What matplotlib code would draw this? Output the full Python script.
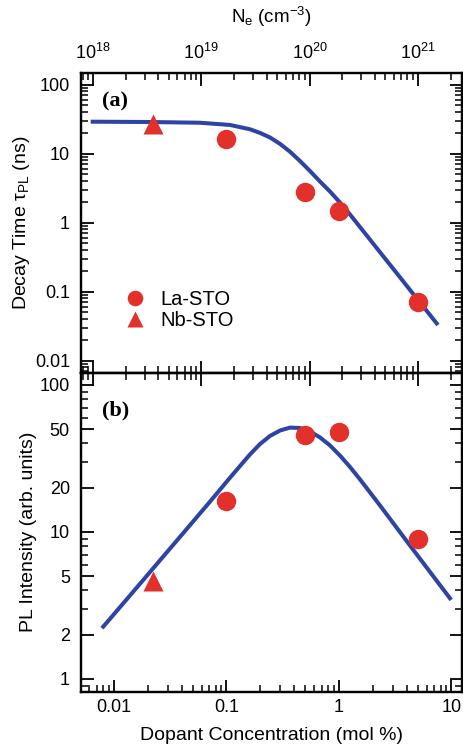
import matplotlib
matplotlib.use("Agg")
import matplotlib.pyplot as plt
from matplotlib.ticker import LogLocator, NullFormatter, FixedLocator, FixedFormatter

plt.rcParams['font.family'] = ['Liberation Sans', 'DejaVu Sans']
plt.rcParams['mathtext.fontset'] = 'custom'
plt.rcParams['mathtext.rm'] = 'Liberation Sans'
plt.rcParams['mathtext.it'] = 'Liberation Sans:italic'

# ---- data ----
conc_la = [0.1, 0.5, 1.0, 5.0]
tau_la = [16.3, 2.8, 1.48, 0.072]
int_la = [16.3, 45.7, 47.6, 9.0]

conc_nb = [0.022]
tau_nb = [26.8]
int_nb = [4.66]

fit_a_conc = [0.00647, 0.0209, 0.0581, 0.1074, 0.1618, 0.1988, 0.2435, 0.2989,
              0.3667, 0.4499, 0.5524, 0.6779, 0.8318, 1.0207, 1.2527, 1.537,
              1.886, 2.314, 2.840, 3.485, 4.277, 5.248, 6.44, 7.386]
fit_a_tau = [29.1, 28.8, 28.1, 26.1, 22.6, 20.0, 17.2, 13.9,
             10.7, 7.84, 5.61, 3.95, 2.83, 1.96, 1.315, 0.866,
             0.569, 0.374, 0.246, 0.162, 0.106, 0.0700, 0.0460, 0.0347]

fit_b_conc = [0.00803, 0.01388, 0.02397, 0.0413, 0.0714, 0.0876, 0.1074, 0.1318,
              0.1618, 0.1988, 0.2435, 0.2989, 0.3667, 0.4499, 0.5524, 0.6779,
              0.8318, 1.0207, 1.2527, 1.537, 1.886, 2.314, 2.840, 4.277, 6.44, 9.698]
fit_b_int = [2.27, 3.70, 6.04, 9.84, 16.1, 19.4, 23.4, 28.1,
             33.7, 39.7, 45.0, 49.0, 51.3, 51.0, 48.3, 44.0,
             38.8, 33.1, 27.7, 22.8, 18.6, 15.15, 12.3, 8.09, 5.35, 3.54]

xticks_conc = [0.01, 0.1, 1, 10]
xticklabels_conc = ['0.01', '0.1', '1', '10']
yticks_a = [0.01, 0.1, 1, 10, 100]
yticklabels_a = ['0.01', '0.1', '1', '10', '100']
yticks_b = [1, 2, 5, 10, 20, 50, 100]
yticklabels_b = ['1', '2', '5', '10', '20', '50', '100']
ne_ticks = [1e18, 1e19, 1e20, 1e21]
ne_ticklabels = ['$10^{18}$', '$10^{19}$', '$10^{20}$', '$10^{21}$']

RED = '#e1312a'
BLUE = '#2e43a3'
W, H = 463, 749
fig = plt.figure(figsize=(W / 100, H / 100), dpi=100)

left = 81 / W
width = 381 / W
ax_a = fig.add_axes([left, 1 - 372.5 / H, width, (372.5 - 72.7) / H])
ax_b = fig.add_axes([left, 1 - 691.7 / H, width, (691.7 - 372.5) / H])

XLIM = (0.00509, 12.4)
NELIM = (10 ** 17.889, 10 ** 21.407)

tick_kw = dict(direction='in', width=1.3, labelsize=13)

def style(ax):
    for s in ax.spines.values():
        s.set_linewidth(1.6)

# ---- panel (a) ----
ax_a.plot(fit_a_conc, fit_a_tau, color=BLUE, lw=2.9, zorder=2)
ax_a.plot(conc_la, tau_la, 'o', color=RED, ms=14, mec='none', label='La-STO', zorder=3)
ax_a.plot(conc_nb, tau_nb, '^', color=RED, ms=15, mec='none', label='Nb-STO', zorder=3)
ax_a.set_xscale('log')
ax_a.set_yscale('log')
ax_a.set_xlim(*XLIM)
ax_a.set_ylim(10 ** -2.171, 10 ** 2.174)
ax_a.set_xticks([])
ax_a.xaxis.set_minor_locator(FixedLocator([]))
ax_a.yaxis.set_major_locator(FixedLocator(yticks_a))
ax_a.yaxis.set_major_formatter(FixedFormatter(yticklabels_a))
ax_a.yaxis.set_minor_locator(LogLocator(base=10, subs=range(2, 10)))
ax_a.yaxis.set_minor_formatter(NullFormatter())
ax_a.tick_params(axis='y', which='both', left=True, right=True, pad=8, **tick_kw)
ax_a.tick_params(axis='y', which='major', length=9)
ax_a.tick_params(axis='y', which='minor', length=5, width=1.1)
ax_a.set_ylabel(r'Decay Time τ$_\mathrm{PL}$ (ns)', fontsize=14, labelpad=2)
ax_a.text(0.055, 0.905, '(a)', transform=ax_a.transAxes, fontsize=16,
          fontweight='bold', family='Liberation Serif', va='center', ha='left')
leg = ax_a.legend(loc='lower left', bbox_to_anchor=(0.077, 0.095), frameon=False,
                  fontsize=14.5, handlelength=1.0, handletextpad=0.8,
                  labelspacing=0.1, borderpad=0.2, numpoints=1, markerscale=0.8)
style(ax_a)

ax_at = ax_a.twiny()
ax_at.set_xscale('log')
ax_at.set_xlim(*NELIM)
ax_at.xaxis.set_major_locator(FixedLocator(ne_ticks))
ax_at.xaxis.set_major_formatter(FixedFormatter(ne_ticklabels))
ax_at.xaxis.set_minor_locator(LogLocator(base=10, subs=range(2, 10)))
ax_at.xaxis.set_minor_formatter(NullFormatter())
ax_at.tick_params(axis='x', which='both', top=True, bottom=True, labeltop=True,
                  labelbottom=False, pad=7, **tick_kw)
ax_at.tick_params(axis='x', which='major', length=9)
ax_at.tick_params(axis='x', which='minor', length=5, width=1.1)
ax_at.set_xlabel(r'N$_\mathrm{e}$ (cm$^{-3}$)', fontsize=13.5, labelpad=14)
style(ax_at)

# ---- panel (b) ----
ax_b.plot(fit_b_conc, fit_b_int, color=BLUE, lw=2.9, zorder=2)
ax_b.plot(conc_la, int_la, 'o', color=RED, ms=14, mec='none', zorder=3)
ax_b.plot(conc_nb, int_nb, '^', color=RED, ms=15, mec='none', zorder=3)
ax_b.set_xscale('log')
ax_b.set_yscale('log')
ax_b.set_xlim(*XLIM)
ax_b.set_ylim(10 ** -0.0864, 10 ** 2.085)
ax_b.xaxis.set_major_locator(FixedLocator(xticks_conc))
ax_b.xaxis.set_major_formatter(FixedFormatter(xticklabels_conc))
ax_b.xaxis.set_minor_locator(LogLocator(base=10, subs=range(2, 10)))
ax_b.xaxis.set_minor_formatter(NullFormatter())
ax_b.yaxis.set_major_locator(FixedLocator(yticks_b))
ax_b.yaxis.set_major_formatter(FixedFormatter(yticklabels_b))
ax_b.yaxis.set_minor_locator(LogLocator(base=10, subs=range(2, 10)))
ax_b.yaxis.set_minor_formatter(NullFormatter())
ax_b.tick_params(axis='y', which='both', left=True, right=True, pad=8, **tick_kw)
ax_b.tick_params(axis='x', which='both', bottom=True, top=False, pad=5, **tick_kw)
ax_b.tick_params(axis='both', which='major', length=9)
ax_b.tick_params(axis='both', which='minor', length=5, width=1.1)
ax_b.set_xlabel('Dopant Concentration (mol %)', fontsize=14, labelpad=8)
ax_b.set_ylabel('PL Intensity (arb. units)', fontsize=14, labelpad=2)
ax_b.text(0.055, 0.88, '(b)', transform=ax_b.transAxes, fontsize=16,
          fontweight='bold', family='Liberation Serif', va='center', ha='left')
style(ax_b)

ax_bt = ax_b.twiny()
ax_bt.set_xscale('log')
ax_bt.set_xlim(*NELIM)
ax_bt.xaxis.set_major_locator(FixedLocator(ne_ticks))
ax_bt.xaxis.set_minor_locator(LogLocator(base=10, subs=range(2, 10)))
ax_bt.tick_params(axis='x', which='both', top=True, bottom=False, labeltop=False,
                  labelbottom=False, **tick_kw)
ax_bt.tick_params(axis='x', which='major', length=9)
ax_bt.tick_params(axis='x', which='minor', length=5, width=1.1)
style(ax_bt)

fig.savefig('out.png', dpi=100)
